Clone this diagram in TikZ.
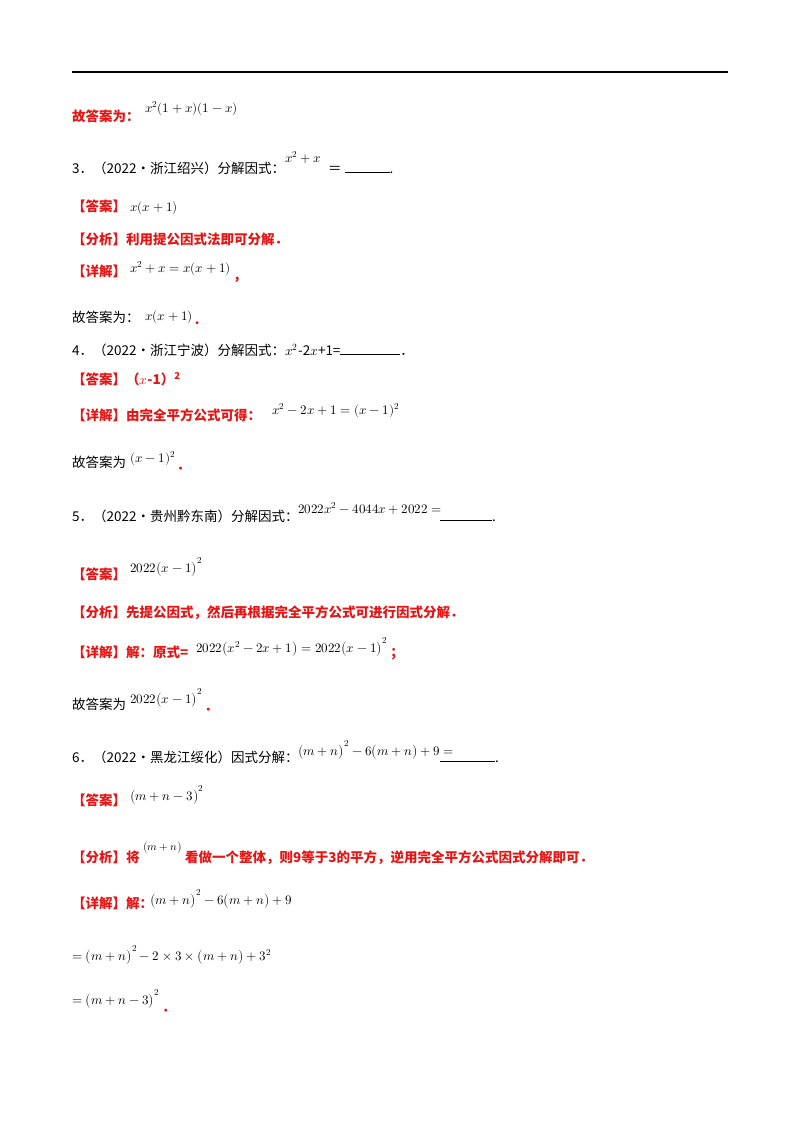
\documentclass[tikz,border=0pt]{standalone}
\usepackage{fontspec}
\usepackage{unicode-math}
\setmainfont{Liberation Serif}
\setmathfont{Latin Modern Math}
\newfontfamily\cjk{Noto Sans CJK SC}
\usetikzlibrary{positioning}
\definecolor{ansred}{RGB}{230,20,20}
\tikzset{
  txt/.style={anchor=base west,inner sep=0pt,font=\fontsize{13.5}{16}\selectfont\cjk},
  red txt/.style={txt,text=ansred,font=\fontsize{13.5}{16}\selectfont\cjk\bfseries},
  eq/.style={anchor=base west,inner sep=0pt,font=\fontsize{13}{15}\selectfont}
}
\newcommand{\blank}[1]{\rule{#1}{0.6pt}}
\begin{document}
\begin{tikzpicture}[x=1pt,y=-1pt]
\useasboundingbox (0,0) rectangle (800,1132);
\coordinate (L) at (72,72);
\coordinate (R) at (728,72);
\draw[line width=1.5pt] (L) -- (R);

% previous answer
\node[red txt] (A0) at (72,121) {故答案为：};
\node[eq] (A0m) at (145,112) {$x^2(1+x)(1-x)$};

% question 3
\node[txt] (Q3) at (72,173) {3．（2022·浙江绍兴）分解因式：};
\node[eq] (Q3m) at (285,162) {$x^2+x$};
\node[txt] (Q3b) at (328,173) {＝ \blank{45pt}.};
\node[red txt] (D3) at (72,211) {【答案】};
\node[eq] (D3m) at (130,211) {$x(x+1)$};
\node[red txt] (F3) at (72,244) {【分析】利用提公因式法即可分解．};
\node[red txt] (X3) at (72,276) {【详解】};
\node[eq] (X3m) at (130,272) {$x^2+x=x(x+1)$};
\node[red txt] (X3p) at ([xshift=2pt,yshift=-8pt]X3m.base east) {，};
\node[txt] (G3) at (72,322) {故答案为：};
\node[eq] (G3m) at (145,320) {$x(x+1)$};
\node[red txt] (G3p) at ([xshift=2pt,yshift=-4pt]G3m.base east) {.};

% question 4
\node[txt] (Q4) at (72,355) {4．（2022·浙江宁波）分解因式：$x^2$-2$x$+1=\blank{60pt}．};
\node[red txt] (D4) at (72,384) {【答案】（$x$-1）\textsuperscript{2}};
\node[red txt] (X4) at (72,420) {【详解】由完全平方公式可得：};
\node[eq] (X4m) at (272,414) {$x^2-2x+1=(x-1)^2$};
\node[txt] (G4) at (72,467) {故答案为};
\node[eq] (G4m) at (130,462) {$(x-1)^2$};
\node[red txt] (G4p) at ([xshift=1pt,yshift=-8pt]G4m.base east) {．};

% question 5
\node[txt] (Q5) at (72,521) {5．（2022·贵州黔东南）分解因式：};
\node[eq] (Q5m) at (298,513) {$2022x^2-4044x+2022=$};
\node[txt] (Q5b) at (440,521) {\blank{52pt}.};
\node[red txt] (D5) at (72,579) {【答案】};
\node[eq] (D5m) at (130,572) {$2022\bigl(x-1\bigr)^2$};
\node[red txt] (F5) at (72,617) {【分析】先提公因式，然后再根据完全平方公式可进行因式分解．};
\node[red txt] (X5) at (72,657) {【详解】解：原式=};
\node[eq] (X5m) at (196,652) {$2022\bigl(x^2-2x+1\bigr)=2022\bigl(x-1\bigr)^2$};
\node[red txt] (X5p) at ([xshift=3pt,yshift=-5pt]X5m.base east) {；};
\node[txt] (G5) at (72,709) {故答案为};
\node[eq] (G5m) at (130,703) {$2022\bigl(x-1\bigr)^2$};
\node[red txt] (G5p) at ([xshift=2pt,yshift=-8pt]G5m.base east) {．};

% question 6
\node[txt] (Q6) at (72,762) {6．（2022·黑龙江绥化）因式分解：};
\node[eq] (Q6m) at (298,755) {$\bigl(m+n\bigr)^2-6\bigl(m+n\bigr)+9=$};
\node[txt] (Q6b) at (440,762) {\blank{55pt}.};
\node[red txt] (D6) at (72,805) {【答案】};
\node[eq] (D6m) at (130,800) {$\bigl(m+n-3\bigr)^2$};
\node[red txt] (F6) at (72,862) {【分析】将};
\node[eq,font=\fontsize{11}{13}\selectfont] (F6m) at (143,850) {$\bigl(m+n\bigr)$};
\node[red txt] (F6b) at (185,862) {看做一个整体，则9等于3的平方，逆用完全平方公式因式分解即可．};
\node[red txt] (X6) at (72,908) {【详解】解：};
\node[eq] (X6m) at (150,904) {$\bigl(m+n\bigr)^2-6\bigl(m+n\bigr)+9$};
\node[eq] (X6a) at (72,960) {$=\bigl(m+n\bigr)^2-2\times3\times\bigl(m+n\bigr)+3^2$};
\node[eq] (X6b) at (72,1004) {$=\bigl(m+n-3\bigr)^2$};
\node[red txt] (X6p) at ([xshift=2pt,yshift=-8pt]X6b.base east) {．};
\end{tikzpicture}
\end{document}
